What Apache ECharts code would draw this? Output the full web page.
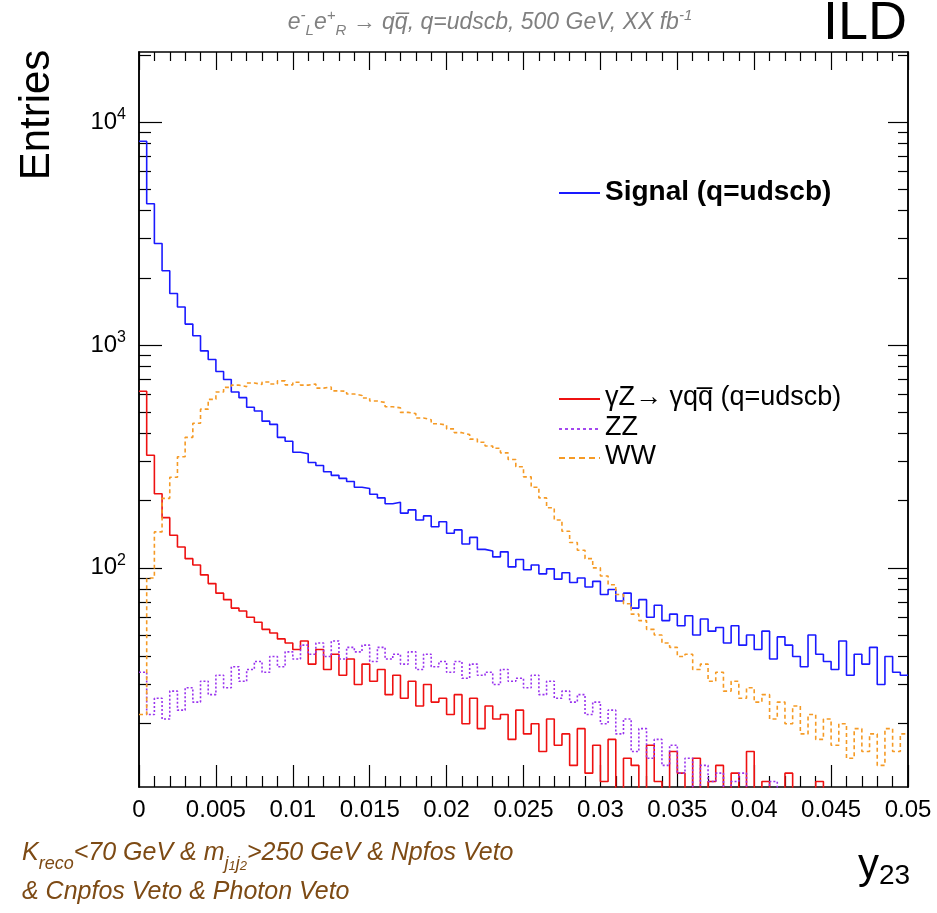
<!DOCTYPE html>
<html><head><meta charset="utf-8">
<script src="https://cdn.jsdelivr.net/npm/echarts@6/dist/echarts.min.js"></script>
<style>html,body{margin:0;padding:0;background:#fff}#c{width:937px;height:913px}</style>
</head><body><div id="c"></div>
<script>
// ---- data (bin width 0.0005 in y23, 100 bins from 0 to 0.05) ----
const binWidth = 0.0005;
const signal = [8200,4300,2850,2150,1700,1480,1240,1100,940,860,
 760,700,615,580,525,505,455,440,385,370,
 330,325,297,288,270,260,252,244,230,227,
 214,206,194,197,176,182,164,171,153,161,
 143,148,128,137,121,119,112,118,101,109,
 98,103,94,99,89,95,86,90,82,87,
 76,80,71,77,66,72,60,68,58,62,
 55,61,50,59,52,54,46,55,45,50,
 43,52,39,49,45,40,36,50,41,38,
 35,47,33,41,37,44,30,40,34,33];
const gammaZ = [620,320,215,168,140,124,110,103,93,85,
 77,72,66,64,60,57,53,51,48,46,
 43,47,37,43,35,41,33,39,30,37,
 31,35,27,33,26,31,24,30,25,26,
 22,27,20,26,19,24,21,22,17,23,
 18,20,15,21,16,18,13,19,12,16,
 11,17,1,14,13,1,16,11,1,15,
 12,1,14,1,11,13,1,12,1,15,
 1,11,1,1,12,1,1,1,11,1,
 1,1,1,1,1,1,1,1,1,1];
const zzBkg = [34,22,26,21,28,23,29,25,31,27,
 33,29,36,31,35,38,34,40,36,42,
 39,45,41,46,40,47,39,44,42,45,
 38,44,39,41,37,42,35,41,36,38,
 34,38,32,37,33,34,30,35,31,32,
 29,33,27,31,26,28,25,27,22,25,
 20,23,18,21,15,19,14,17,13,16,
 12,14,1,13,11,12,1,11,12,1,
 1,1,11,1,1,1,1,1,1,1,
 1,1,1,1,1,1,1,1,1,1];
const wwBkg = [22,90,145,205,255,315,385,445,515,570,
 615,645,660,650,675,665,682,668,690,662,
 680,660,668,640,648,622,620,602,593,578,
 560,552,528,522,498,492,470,462,443,437,
 420,404,396,378,366,352,344,328,306,284,
 256,230,206,186,164,146,130,120,110,100,
 92,84,76,69,62,58,53,50,46,44,
 40,41,35,37,31,34,28,31,26,29,
 25,27,21,25,20,24,18,22,17,21,
 16,20,14,19,15,18,13,19,15,18];
const yMajor = [100, 1000, 10000];
const yMinor = [20,30,40,50,60,70,80,90,200,300,400,500,600,700,800,900,2000,3000,4000,5000,6000,7000,8000,9000,20000];

const X_MIN = 0, X_MAX = 0.05, X_STEP = 0.005;
const Y_MIN = 10.4, Y_MAX = 20600;

function steps(vals) {
  const d = vals.map((v, i) => [+(i * binWidth).toFixed(5), v]);
  d.push([+(vals.length * binWidth).toFixed(5), vals[vals.length - 1]]);
  return d;
}

const FONT = "'Liberation Sans', Arial, Helvetica, sans-serif";
const chart = echarts.init(document.getElementById('c'), null, {renderer: 'canvas'});

const lineAx = {show: true, onZero: false, lineStyle: {color: '#000', width: 1.5}};
function xAx(pos, major, minor, labels) {
  return {
    type: 'value', position: pos, min: X_MIN, max: X_MAX, interval: X_STEP,
    axisLine: lineAx,
    axisTick: {show: true, inside: true, length: major, lineStyle: {color: '#000', width: 1.2}},
    minorTick: {show: true, splitNumber: 5, length: minor, lineStyle: {color: '#000', width: 1.2}},
    splitLine: {show: false}, minorSplitLine: {show: false},
    axisLabel: labels ? {show: true, fontFamily: FONT, fontSize: 24, color: '#000', margin: 11,
      formatter: v => String(+v.toFixed(3))} : {show: false}
  };
}
function yAx(pos, len, vals, labels) {
  return {
    type: 'log', position: pos, min: Y_MIN, max: Y_MAX,
    axisLine: lineAx,
    axisTick: {show: true, inside: true, length: len, customValues: vals, lineStyle: {color: '#000', width: 1.2}},
    splitLine: {show: false},
    axisLabel: labels ? {show: true, customValues: vals, margin: 13,
      formatter: v => '{b|10}{s|' + Math.round(Math.log10(v)) + '}',
      rich: {b: {fontFamily: FONT, fontSize: 24, color: '#000', lineHeight: 30},
             s: {fontFamily: FONT, fontSize: 16, color: '#000', lineHeight: 16, verticalAlign: 'top'}}} : {show: false}
  };
}

function ser(name, vals, color, type, z) {
  return {
    name, type: 'line', step: 'end', data: steps(vals), symbol: 'none', clip: true,
    xAxisIndex: 0, yAxisIndex: 0, z,
    lineStyle: {color, width: 1.6, type}, animation: false
  };
}

const legendItems = [
  {label: '{b|Signal (q=udscb)}', color: '#1a1aff', dash: 'solid', y: 192},
  {label: '{n|\u03b3Z\u2192 \u03b3qq\u0305 (q=udscb)}', color: '#ee1111', dash: 'solid', y: 398},
  {label: '{n|ZZ}', color: '#9933ee', dash: [3, 3], y: 428},
  {label: '{n|WW}', color: '#f59a25', dash: [6, 4], y: 457}
];

const graphics = [];
legendItems.forEach(it => {
  graphics.push({type: 'line', shape: {x1: 559, y1: it.y + 1, x2: 600, y2: it.y + 1},
    style: {stroke: it.color, lineWidth: 1.8, lineDash: it.dash === 'solid' ? null : it.dash}});
  graphics.push({type: 'text', x: 605, y: it.y, style: {text: it.label, align: 'left', verticalAlign: 'middle',
    rich: {b: {fontFamily: FONT, fontSize: 28, fontWeight: 'bold', fill: '#000'},
           n: {fontFamily: FONT, fontSize: 27, fill: '#000'}}}});
});

const brown = '#7d4a14';
graphics.push(
  {type: 'text', x: 490, y: 23, style: {
    text: '{n|e}{sp|-}{sb|L}{n|e}{sp|+}{sb|R}{a| \u2192 }{n|qq\u0305, q=udscb, 500 GeV, XX fb}{sp|-1}',
    align: 'center', verticalAlign: 'middle',
    rich: {n: {fontFamily: FONT, fontSize: 23, fontStyle: 'italic', fill: '#808080', lineHeight: 30},
           a: {fontFamily: FONT, fontSize: 23, fill: '#808080', lineHeight: 30},
           sp: {fontFamily: FONT, fontSize: 15, fontStyle: 'italic', fill: '#808080', lineHeight: 15, verticalAlign: 'top'},
           sb: {fontFamily: FONT, fontSize: 15, fontStyle: 'italic', fill: '#808080', lineHeight: 15, verticalAlign: 'bottom'}}}},
  {type: 'text', x: 907, y: 51, style: {text: 'ILD', fontFamily: FONT, fontSize: 54, fill: '#000', align: 'right', verticalAlign: 'bottom'}},
  {type: 'text', x: 37, y: 115, rotation: Math.PI / 2, style: {text: 'Entries', fontFamily: FONT, fontSize: 42, fill: '#000', align: 'center', verticalAlign: 'middle'}},
  {type: 'text', x: 22, y: 853, style: {
    text: '{i|K}{s|reco}{i|<70 GeV & m}{s|j}{ss|1}{s|j}{ss|2}{i|>250 GeV & Npfos Veto}',
    align: 'left', verticalAlign: 'middle',
    rich: {i: {fontFamily: FONT, fontSize: 25, fontStyle: 'italic', fill: brown, lineHeight: 40},
           s: {fontFamily: FONT, fontSize: 18, fontStyle: 'italic', fill: brown, lineHeight: 22, verticalAlign: 'bottom'},
           ss: {fontFamily: FONT, fontSize: 13, fontStyle: 'italic', fill: brown, lineHeight: 12, verticalAlign: 'bottom'}}}},
  {type: 'text', x: 22, y: 892, style: {text: '& Cnpfos Veto & Photon Veto', fontFamily: FONT, fontSize: 25, fontStyle: 'italic', fill: brown, align: 'left', verticalAlign: 'middle'}},
  {type: 'text', x: 858, y: 866, style: {
    text: '{y|y}{s|23}', align: 'left', verticalAlign: 'middle',
    rich: {y: {fontFamily: FONT, fontSize: 42, fill: '#000', lineHeight: 48},
           s: {fontFamily: FONT, fontSize: 28, fill: '#000', lineHeight: 28, verticalAlign: 'bottom'}}}}
);

chart.setOption({
  animation: false,
  backgroundColor: '#fff',
  grid: {left: 139, right: 29, top: 52, bottom: 126, containLabel: false},
  xAxis: [xAx('bottom', 22, 11, true), xAx('top', 18, 9, false)],
  yAxis: [yAx('left', 23, yMajor, true), yAx('left', 12, yMinor, false),
          yAx('right', 20, yMajor, false), yAx('right', 10, yMinor, false)],
  series: [
    ser('Signal (q=udscb)', signal, '#1a1aff', 'solid', 2),
    ser('gammaZ', gammaZ, '#ee1111', 'solid', 3),
    ser('ZZ', zzBkg, '#9933ee', [2, 2], 4),
    ser('WW', wwBkg, '#f59a25', [4, 3], 5)
  ],
  graphic: graphics
});
</script>
</body></html>
